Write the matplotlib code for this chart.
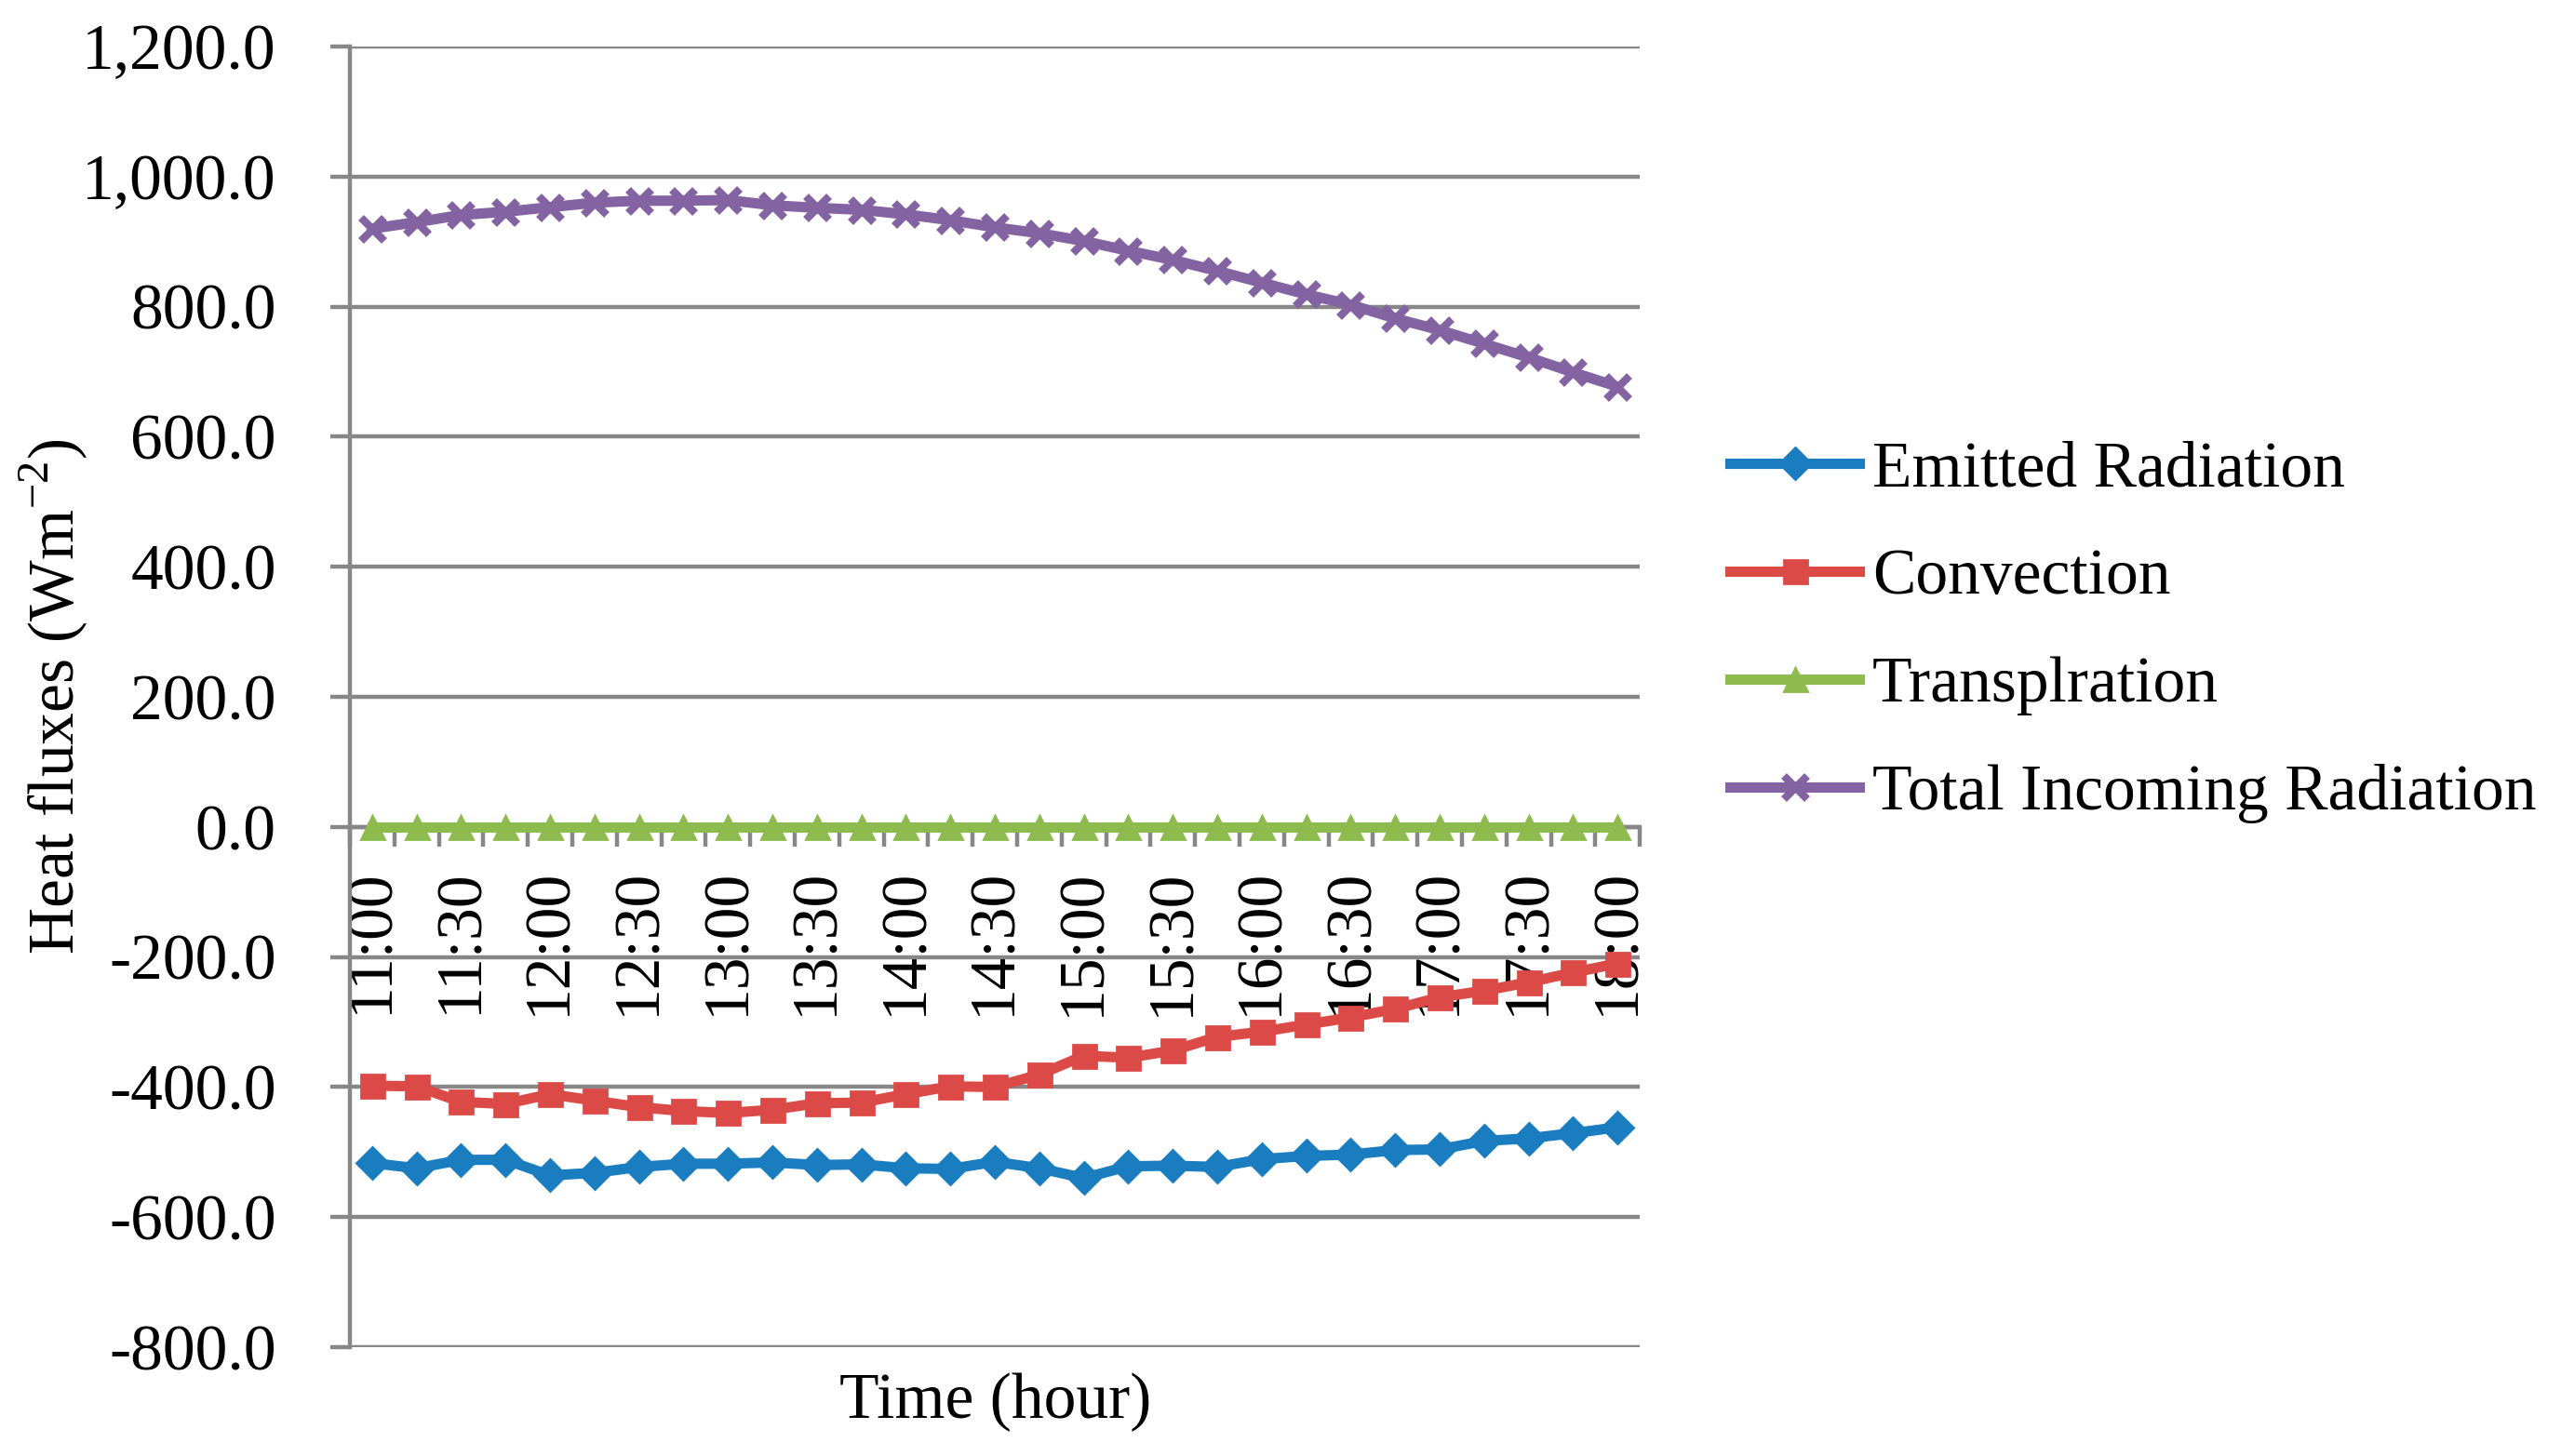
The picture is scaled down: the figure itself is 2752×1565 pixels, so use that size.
import numpy as np
import matplotlib
matplotlib.use("Agg")
import matplotlib.pyplot as plt
from matplotlib.ticker import FuncFormatter

plt.rcParams['font.family'] = ['Liberation Serif', 'DejaVu Serif']
plt.rcParams['mathtext.fontset'] = 'custom'
plt.rcParams['mathtext.rm'] = 'Liberation Serif'

# 15 minute steps from 11:00 to 18:00
times = ['11:00', '11:15', '11:30', '11:45', '12:00', '12:15', '12:30', '12:45',
         '13:00', '13:15', '13:30', '13:45', '14:00', '14:15', '14:30', '14:45',
         '15:00', '15:15', '15:30', '15:45', '16:00', '16:15', '16:30', '16:45',
         '17:00', '17:15', '17:30', '17:45', '18:00']

emitted = [-517, -525, -512, -512, -536, -532, -523, -518, -518, -516, -520, -519,
           -525, -526, -515, -525, -540, -522, -521, -523, -511, -506, -504, -497,
           -496, -483, -479, -471, -462]
convection = [-398, -399, -423, -426, -411, -421, -431, -437, -440, -435, -425, -424,
              -411, -399, -400, -381, -352, -355, -344, -323, -315, -304, -293, -280,
              -262, -252, -239, -224, -210]
transpiration = [0.0] * 29
incoming = [920, 930, 941, 946, 953, 960, 963, 963, 964, 956, 952, 949, 942, 933,
            922, 913, 901, 886, 872, 855, 837, 819, 803, 782, 764, 743, 722, 699, 677]

FS = 25
GRID = '#878787'

fig = plt.figure(figsize=(13.76, 7.825), dpi=200)
ax = fig.add_axes([0.1366, 0.0748, 0.5037, 0.8932])

x = np.arange(len(times))
ax.plot(x, emitted, color='#1A7DC0', lw=4, marker='D', ms=8.5, label='Emitted Radiation', zorder=3)
ax.plot(x, convection, color='#DC4A48', lw=4, marker='s', ms=9, label='Convection', zorder=3)
ax.plot(x, transpiration, color='#8DBB4E', lw=4, marker='^', ms=9, label='Transplration', zorder=3)
ax.plot(x, incoming, color='#8463A3', lw=4, marker='x', ms=9, mew=3, label='Total Incoming Radiation', zorder=3)

ax.set_xlim(-0.5, len(times) - 0.5)
ax.set_ylim(-800, 1200)
ax.set_yticks(np.arange(-800, 1201, 200))
ax.yaxis.set_major_formatter(FuncFormatter(lambda v, p: f'{v:,.1f}'))
ax.grid(axis='y', color=GRID, lw=1.6)
ax.set_axisbelow(True)

for s in ['top', 'right']:
    ax.spines[s].set_visible(False)
ax.spines['left'].set_color(GRID)
ax.spines['left'].set_linewidth(1.6)
ax.spines['bottom'].set_color(GRID)
ax.spines['bottom'].set_linewidth(1.6)
ax.spines['bottom'].set_position(('data', 0))

ax.set_xticks(x[::2])
ax.set_xticklabels(times[::2], rotation=90, fontsize=FS)
ax.set_xticks(np.arange(-0.5, len(times), 1), minor=True)
ax.tick_params(axis='x', which='major', length=0, pad=16)
ax.tick_params(axis='x', which='minor', length=7.5, width=1.6, color=GRID)
ax.tick_params(axis='y', length=7.5, width=1.6, color=GRID, labelsize=FS, pad=21)

fig.text(0.021, 0.522, 'Heat fluxes (Wm$^{\\mathregular{-2}}$)', fontsize=FS,
         rotation=90, ha='center', va='center')
fig.text(0.3885, 0.0262, 'Time (hour)', fontsize=FS, ha='center', va='baseline')

fig.legend(loc='center left', bbox_to_anchor=(0.663, 0.5657), frameon=False, fontsize=FS,
           handlelength=2.0, handletextpad=0.2, labelspacing=0.75, borderpad=0)

fig.savefig('out.png', dpi=200)
